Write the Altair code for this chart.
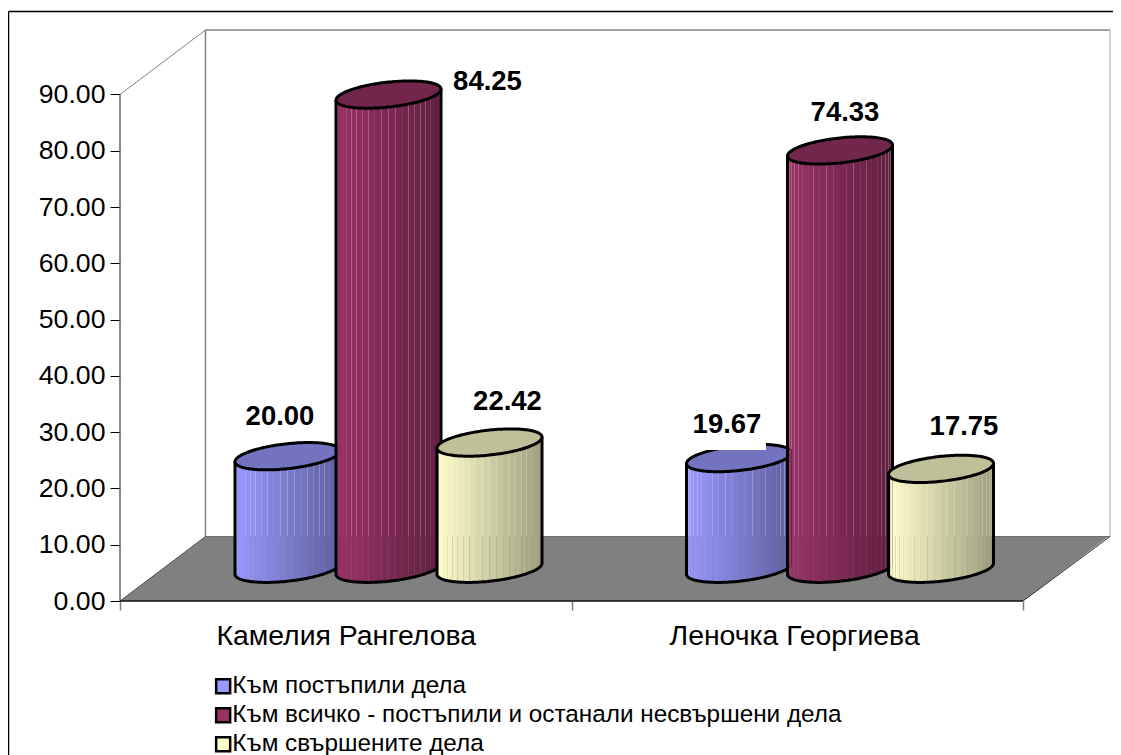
import math
import altair as alt
import pandas as pd

people = ["Камелия Рангелова", "Леночка Георгиева"]
series = ["Към постъпили дела", "Към всичко - постъпили и останали несвършени дела", "Към свършените дела"]
values_first = [20.00, 84.25, 22.42]
values_second = [19.67, 74.33, 17.75]
colors = ["#9999FF", "#993366", "#FFFFCC"]
y_ticks = [0, 10, 20, 30, 40, 50, 60, 70, 80, 90]

FONT = "Liberation Sans"
# pixel geometry of the plot, expressed as scale factors
PW, PH = 990, 571
PX_X = 451.5          # px per category
PX_Y = 5.628          # px per value unit
XMAX, YMAX = PW / PX_X, PH / PX_Y
DX, DY = 85.5 / PX_X, 64.5 / PX_Y   # depth of the 3D floor
SLOT = 101 / PX_X
RX, RY, TILT = 52.5 / PX_X, 12.5 / PX_Y, 5.5 / PX_Y
X = alt.Scale(domain=[0, XMAX], nice=False, zero=False)
Y = alt.Scale(domain=[0, YMAX], nice=False, zero=False)


def px(xp):
    return (xp - 120) / PX_X


def py(yp):
    return (601 - yp) / PX_Y


def shade(hex_color, f):
    r, g, b = (int(hex_color[i:i + 2], 16) for i in (1, 3, 5))
    return "#%02x%02x%02x" % (round(r * f), round(g * f), round(b * f))


label_expr = "datum.value==0.5?'%s':datum.value==1.493?'%s':''" % tuple(people)
x_axis = alt.Axis(values=[0, 0.5, 1, 1.493, 2], labelExpr=label_expr, domain=False, grid=False,
                  tickSize=9, tickColor="#808080", tickWidth=1.5,
                  tickOpacity={"condition": {"test": "datum.value % 1 != 0", "value": 0}, "value": 1},
                  labelFont=FONT, labelFontSize=28.4, labelColor="black", labelPadding=12,
                  labelFlush=False, labelOverlap=False, labelAngle=0, labelLimit=600)
y_axis = alt.Axis(values=y_ticks, format=".2f", domain=False, grid=False, tickSize=10,
                  tickColor="black", tickWidth=1, labelFont=FONT, labelFontSize=26.67,
                  labelColor="black", labelPadding=5)


def xe():
    return alt.X("x:Q", scale=X, axis=x_axis, title=None)


def ye():
    return alt.Y("y:Q", scale=Y, axis=y_axis, title=None)


layers = []

# legend carrier
legend_df = pd.DataFrame({"x": [0.001] * 3, "y": [0.001] * 3, "series": series})
layers.append(
    alt.Chart(legend_df).mark_point(filled=True, size=1, opacity=1).encode(
        x=xe(), y=ye(),
        fill=alt.Fill("series:N", sort=None, scale=alt.Scale(domain=series, range=colors),
                      legend=alt.Legend(title=None, orient="none", legendX=91, legendY=644,
                                        symbolType="square", symbolSize=196, symbolStrokeColor="black",
                                        symbolStrokeWidth=2.5, symbolOpacity=1, labelFont=FONT,
                                        labelFontSize=24.3, labelColor="black", labelLimit=800,
                                        rowPadding=4, labelOffset={"expr": "-3"}, padding=0)),
    )
)

# floor
floor = pd.DataFrame({"x": [0, DX, 2, 2 + DX], "y": [0, DY, DY, DY], "y2": [0, 0, 0, DY]})
layers.append(alt.Chart(floor).mark_area(color="#808080").encode(x=xe(), y=ye(), y2="y2:Q"))

# walls, axis lines and outer frame
seg = pd.DataFrame([
    (0, 90, DX, YMAX, "#808080", 1),
    (DX, YMAX, XMAX, YMAX, "#808080", 1.5),
    (DX, DY, DX, YMAX, "#808080", 1.5),
    (XMAX, DY, XMAX, YMAX, "#c0c0c0", 1.5),
    (DX, DY, XMAX, DY, "#6e6e6e", 1),
    (0, 0, DX, DY, "#505050", 1),
    (2, 0, XMAX, DY, "#303030", 1),
    (0, 0, 0, 90, "#666666", 1.5),
    (0, 0, 2, 0, "#111111", 1.5),
    (px(8.5), py(11.5), px(1125), py(11.5), "#000000", 1.5),
    (px(8.5), py(11.5), px(8.5), py(760), "#000000", 1.5),
], columns=["x", "y", "x2", "y2", "c", "w"])
layers.append(alt.Chart(seg).mark_rule().encode(
    x=xe(), y=ye(), x2="x2:Q", y2="y2:Q",
    color=alt.Color("c:N", scale=None), strokeWidth=alt.StrokeWidth("w:Q", scale=None)))

label_off = [(-7.5, -39), (99, -12.6), (18, -40.6), (-12, -33), (5, -37.4), (23, -42)]
label_rows = []
N = 24
BASE = DY / 2
all_vals = [values_first, values_second]
idx = 0
for i, vals in enumerate(all_vals):
    for s, v in enumerate(vals):
        cx = i + 0.5 + DX / 2 + (s - 1) * SLOT
        top = BASE + v
        col = colors[s]

        def lower(u, yc):
            return yc + TILT * u - RY * math.sqrt(max(0, 1 - u * u))

        def upper(u, yc):
            return yc + TILT * u + RY * math.sqrt(max(0, 1 - u * u))

        us = [-math.cos(math.pi * k / N) for k in range(N + 1)]
        strips = []
        for k in range(N):
            f = 1.0 - 0.38 * (us[k] + us[k + 1] + 2) / 4
            c = shade(col, f)
            for u in (us[k], us[k + 1]):
                strips.append({"x": cx + RX * u, "y": lower(u, BASE), "y2": lower(u, top), "band": k, "c": c})
        layers.append(alt.Chart(pd.DataFrame(strips)).mark_area(strokeWidth=0).encode(
            x=xe(), y=ye(), y2="y2:Q", detail="band:N", color=alt.Color("c:N", scale=None)))

        us2 = [-math.cos(math.pi * k / 80) for k in range(81)]
        outline = [{"x": cx - RX, "y": lower(-1, top), "o": -1}]
        outline += [{"x": cx + RX * u, "y": lower(u, BASE), "o": j} for j, u in enumerate(us2)]
        outline += [{"x": cx + RX, "y": lower(1, top), "o": 100}]
        layers.append(alt.Chart(pd.DataFrame(outline)).mark_line(color="black", strokeWidth=3).encode(
            x=xe(), y=ye(), order="o:Q"))

        cap = [{"x": cx + RX * u, "y": upper(u, top), "y2": lower(u, top)} for u in us2]
        layers.append(alt.Chart(pd.DataFrame(cap)).mark_area(
            color=shade(col, 0.75), stroke="black", strokeWidth=3).encode(x=xe(), y=ye(), y2="y2:Q"))

        ox, oy = label_off[idx]
        label_rows.append({"x": cx + ox / PX_X, "y": top - oy / PX_Y, "t": "%.2f" % v})
        idx += 1

# white box of the label that bites into one cylinder cap
box = pd.DataFrame({"x": [px(690)], "x2": [px(766)], "y": [py(405)], "y2": [py(450)]})
layers.append(alt.Chart(box).mark_rect(color="white").encode(x=xe(), y=ye(), x2="x2:Q", y2="y2:Q"))

layers.append(alt.Chart(pd.DataFrame(label_rows)).mark_text(
    font=FONT, fontSize=27.5, fontWeight="bold", color="black", baseline="middle", align="center"
).encode(x=xe(), y=ye(), text="t:N"))

chart = alt.layer(*layers).properties(
    width=PW, height=PH,
    autosize=alt.AutoSizeParams(type="none"),
    padding={"left": 112, "top": 22, "right": 3, "bottom": 154},
    background="white",
).configure_view(stroke=None)

chart.save("out.html", embed_options={"renderer": "svg", "actions": False})
